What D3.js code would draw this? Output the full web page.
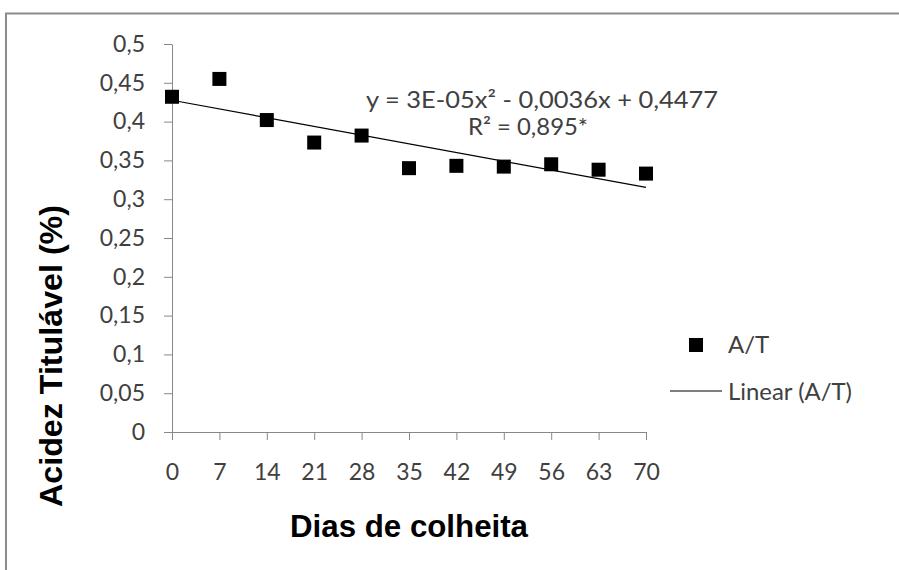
<!DOCTYPE html>
<html>
<head>
<meta charset="utf-8">
<script src="https://cdn.jsdelivr.net/npm/d3@7/dist/d3.min.js"></script>
<style>
  body { margin: 0; background: #fff; }
  svg { display: block; }
</style>
</head>
<body>
<svg id="chart" width="899" height="570"></svg>
<script>
// data
const days = [0, 7, 14, 21, 28, 35, 42, 49, 56, 63, 70]
const acidez = [0.432, 0.455, 0.402, 0.373, 0.382, 0.340, 0.343, 0.342, 0.345, 0.338, 0.333]
const yTicks = [0, 0.05, 0.1, 0.15, 0.2, 0.25, 0.3, 0.35, 0.4, 0.45, 0.5]
const equation = 'y = 3E-05x² - 0,0036x + 0,4477'
const r2Label = 'R² = 0,895*'
const seriesName = 'A/T'
const trendName = 'Linear (A/T)'

const svg = d3.select('#chart')
const axisColor = '#888888'
const textColor = '#404040'
const tickFont = 'Lato, "Open Sans", sans-serif'

// outer frame (runs off the right and bottom of the picture)
svg.append('rect')
  .attr('x', 6).attr('y', 13.5)
  .attr('width', 1000).attr('height', 1000)
  .attr('fill', 'none')
  .attr('stroke', '#8c8c8c')
  .attr('stroke-width', 2)

const x = d3.scaleLinear().domain([0, 70]).range([172, 646])
const y = d3.scaleLinear().domain([0, 0.5]).range([432, 44])

const fmt = d => String(+d.toFixed(2)).replace('.', ',')

// y axis
const gy = svg.append('g')
  .attr('transform', `translate(${x(0)},0)`)
  .call(d3.axisLeft(y).tickValues(yTicks).tickFormat(fmt).tickSize(8).tickSizeOuter(0).tickPadding(19))
// x axis
const gx = svg.append('g')
  .attr('transform', `translate(0,${y(0)})`)
  .call(d3.axisBottom(x).tickValues(days).tickFormat(d => d).tickSize(8).tickSizeOuter(0).tickPadding(24))

for (const g of [gx, gy]) {
  g.select('.domain').attr('stroke', axisColor)
  g.selectAll('.tick line').attr('stroke', axisColor)
  g.selectAll('.tick text')
    .attr('fill', textColor)
    .style('font-family', tickFont)
    .style('font-size', '23px')
}

// linear trendline (least squares on the points)
const mx = d3.mean(days), my = d3.mean(acidez)
const slope = d3.sum(days, (d, i) => (d - mx) * (acidez[i] - my)) / d3.sum(days, d => (d - mx) * (d - mx))
const icpt = my - slope * mx
const trend = [0, 70].map(d => [d, icpt + slope * d])

svg.append('path')
  .attr('d', d3.line().x(d => x(d[0])).y(d => y(d[1]))(trend))
  .attr('stroke', '#000')
  .attr('stroke-width', 1.2)
  .attr('fill', 'none')

// points
const sq = 14
svg.selectAll('.pt')
  .data(days)
  .join('rect')
  .attr('class', 'pt')
  .attr('x', d => x(d) - sq / 2)
  .attr('y', (d, i) => y(acidez[i]) - sq / 2)
  .attr('width', sq).attr('height', sq)
  .attr('fill', '#000')

// equation label
svg.append('text')
  .attr('x', 366).attr('y', 108)
  .attr('textLength', 352).attr('lengthAdjust', 'spacingAndGlyphs')
  .attr('fill', textColor)
  .style('font-family', tickFont).style('font-size', '23px')
  .text(equation)
svg.append('text')
  .attr('x', 468).attr('y', 135)
  .attr('textLength', 120).attr('lengthAdjust', 'spacingAndGlyphs')
  .attr('fill', textColor)
  .style('font-family', tickFont).style('font-size', '23px')
  .text(r2Label)

// legend
svg.append('rect')
  .attr('x', 689).attr('y', 338).attr('width', 14).attr('height', 14)
  .attr('fill', '#000')
svg.append('text')
  .attr('x', 728).attr('y', 353)
  .attr('fill', textColor)
  .style('font-family', tickFont).style('font-size', '24px')
  .text(seriesName)
svg.append('line')
  .attr('x1', 670).attr('x2', 722).attr('y1', 391).attr('y2', 391)
  .attr('stroke', '#000').attr('stroke-width', 1.2)
svg.append('text')
  .attr('x', 728).attr('y', 400)
  .attr('textLength', 124).attr('lengthAdjust', 'spacingAndGlyphs')
  .attr('fill', textColor)
  .style('font-family', tickFont).style('font-size', '24px')
  .text(trendName)

// axis titles
svg.append('text')
  .attr('transform', 'translate(62,356) rotate(-90)')
  .attr('text-anchor', 'middle')
  .attr('textLength', 302).attr('lengthAdjust', 'spacingAndGlyphs')
  .attr('fill', '#000')
  .style('font-family', '"Liberation Sans", Arial, sans-serif')
  .style('font-weight', 'bold').style('font-size', '32px')
  .text('Acidez Titulável (%)')
svg.append('text')
  .attr('x', 290).attr('y', 537)
  .attr('textLength', 238).attr('lengthAdjust', 'spacingAndGlyphs')
  .attr('fill', '#000')
  .style('font-family', '"Liberation Sans", Arial, sans-serif')
  .style('font-weight', 'bold').style('font-size', '31px')
  .text('Dias de colheita')
</script>
</body>
</html>
